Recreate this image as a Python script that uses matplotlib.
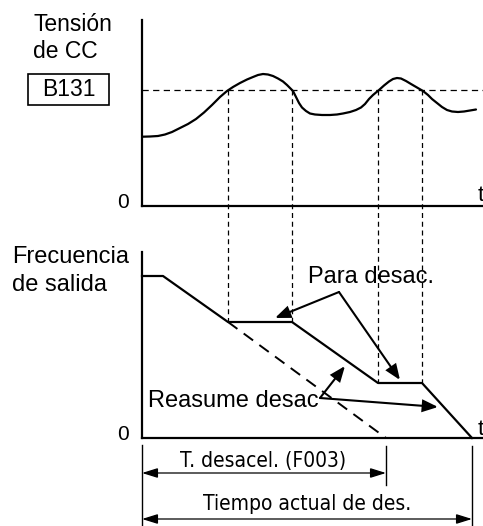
"""Deceleration stop / resume diagram (DC bus voltage vs output frequency)."""

import matplotlib
matplotlib.use("Agg")
import matplotlib.pyplot as plt
from matplotlib.patches import FancyArrowPatch, Rectangle

# Diagram units: x = time axis position, y measured downward (page style)
AXIS_X = 142
TOP_BASE_Y = 206
BOT_BASE_Y = 438

# DC bus voltage curve (top panel)
volt_x = [142.7, 150, 158, 165, 172, 180, 188, 196, 204, 212, 220, 227, 233,
          240, 247, 253, 258, 263, 268, 273, 278, 283, 287, 290, 293, 296,
          299, 302, 306, 310, 315, 322, 330, 337, 343, 350, 356, 361, 365,
          369, 373, 379, 384, 389, 393, 397, 401, 406, 411, 417, 423, 428,
          432, 437, 442, 447, 452, 458, 464, 470, 476]
volt_y = [136.7, 136.5, 136, 134.5, 132, 128, 124, 119, 112.5, 105, 97, 91,
          87, 83, 79.5, 77, 75, 74, 74.5, 76, 78.5, 81.5, 85, 88, 91, 97,
          103, 107.5, 111, 113.5, 114.5, 115, 115, 114.5, 113.5, 112, 110,
          107.5, 104, 99, 95, 90, 85.5, 81.5, 79, 78, 78.5, 81, 84, 87.5, 91,
          95, 99, 103, 107, 110, 111.5, 112, 111.5, 110.5, 109.5]
threshold_y = 90
crossings_x = [228, 292, 378, 422]
crossings_bottom = [322, 322, 383, 383]

# Output frequency (bottom panel)
freq_x = [142, 163, 228, 292, 378, 422, 472]
freq_y = [276, 276, 322, 322, 383, 383, 438]
nominal_x = [228, 386]
nominal_y = [322, 438]

# Dimension markers
decel_end_x = 386
actual_end_x = 472

LW_AXIS = 1.6
LW_DASH = 0.9


def arrow(ax, p0, p1, lw=1.5, style="-|>,head_length=0.75,head_width=0.3", ms=12):
    ax.add_patch(FancyArrowPatch(p0, p1, arrowstyle=style, mutation_scale=ms,
                                 lw=lw, color="black", shrinkA=0, shrinkB=0,
                                 joinstyle="miter"))


def main():
    fig = plt.figure(figsize=(4.83, 5.26), dpi=100)
    ax = fig.add_axes([0, 0, 1, 1])
    ax.set_xlim(0, 483)
    ax.set_ylim(526, 0)
    ax.axis("off")

    sans = ["Liberation Sans", "DejaVu Sans"]

    # ---- top panel ----
    ax.plot([AXIS_X, AXIS_X], [20, TOP_BASE_Y], color="black", lw=LW_AXIS)
    ax.plot([AXIS_X, 483], [TOP_BASE_Y, TOP_BASE_Y], color="black", lw=LW_AXIS)
    ax.plot([AXIS_X, 483], [threshold_y, threshold_y], color="black", lw=LW_DASH,
            dashes=(5, 3.5))
    ax.plot(volt_x, volt_y, color="black", lw=1.6, solid_capstyle="round",
            solid_joinstyle="round")

    for cx, cb in zip(crossings_x, crossings_bottom):
        ax.plot([cx, cx], [threshold_y, cb], color="black", lw=LW_DASH,
                dashes=(4, 3))

    ax.text(33, 31, "Tensión", fontsize=16.5, family=sans, va="baseline")
    ax.text(33, 58, "de CC", fontsize=16.5, family=sans, va="baseline")
    ax.add_patch(Rectangle((28, 74), 81, 31, fill=False, lw=1.2, ec="black"))
    ax.text(68.5, 90, "B131", fontsize=16.5, family=sans, ha="center", va="center")
    ax.text(123, 208, "0", fontsize=15, family=sans, ha="center", va="baseline")
    ax.text(478, 201, "t", fontsize=16, family=sans, va="baseline")

    # ---- bottom panel ----
    ax.plot([AXIS_X, AXIS_X], [252, BOT_BASE_Y], color="black", lw=LW_AXIS)
    ax.plot([AXIS_X, 483], [BOT_BASE_Y, BOT_BASE_Y], color="black", lw=LW_AXIS)
    ax.plot(freq_x, freq_y, color="black", lw=1.6)
    ax.plot(nominal_x, nominal_y, color="black", lw=1.4, dashes=(6, 4))

    ax.text(12, 263, "Frecuencia", fontsize=17, family=sans, va="baseline")
    ax.text(12, 291, "de salida", fontsize=17, family=sans, va="baseline")
    ax.text(123, 440, "0", fontsize=15, family=sans, ha="center", va="baseline")
    ax.text(478, 435, "t", fontsize=16, family=sans, va="baseline")

    ax.text(308, 283, "Para desac.", fontsize=17, family=sans, va="baseline")
    arrow(ax, (339, 292), (275, 318))
    arrow(ax, (339, 292), (400, 380))

    ax.text(148, 407, "Reasume desac", fontsize=17, family=sans, va="baseline")
    arrow(ax, (320, 398), (345, 366))
    arrow(ax, (320, 398), (438, 407))

    # ---- dimension lines ----
    ax.plot([AXIS_X, AXIS_X], [445, 526], color="black", lw=1.0)
    ax.plot([decel_end_x, decel_end_x], [446, 485], color="black", lw=1.0)
    ax.plot([actual_end_x, actual_end_x], [446, 526], color="black", lw=1.0)
    dim_style = "<|-|>,head_length=0.8,head_width=0.25"
    arrow(ax, (AXIS_X, 473), (decel_end_x, 473), lw=0.9, style=dim_style)
    arrow(ax, (AXIS_X, 519), (actual_end_x, 519), lw=0.9, style=dim_style)
    ax.text(263, 467, "T. desacel. (F003)", fontsize=15, family="DejaVu Sans",
            stretch="condensed", ha="center", va="baseline")
    ax.text(307, 510, "Tiempo actual de des.", fontsize=15, family="DejaVu Sans",
            stretch="condensed", ha="center", va="baseline")

    fig.savefig("out.png", dpi=100)
    plt.close(fig)


if __name__ == "__main__":
    main()
